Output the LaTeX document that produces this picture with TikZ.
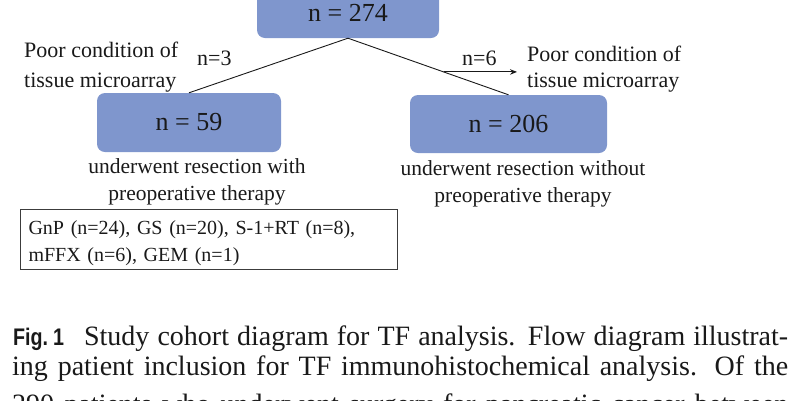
\documentclass[tikz,border=0pt]{standalone}
\usepackage{fontspec}
\setmainfont{Liberation Serif}
\newfontfamily\capsans[FakeStretch=0.82]{Liberation Sans}
\usetikzlibrary{arrows.meta,calc}
\definecolor{boxblue}{RGB}{127,150,205}
\definecolor{framegray}{RGB}{60,60,60}
\definecolor{inkblack}{RGB}{25,25,25}
\tikzset{
  countbox/.style={fill=boxblue, rounded corners=8pt, inner sep=0pt,
    text=inkblack, font=\fontsize{26}{30}\selectfont},
  note/.style={inner sep=0pt, text=inkblack, font=\fontsize{22}{30}\selectfont},
  subnote/.style={inner sep=0pt, text=inkblack, align=center, font=\fontsize{21.5}{27}\selectfont},
  link/.style={line width=0.9pt, draw=inkblack},
  captext/.style={inner sep=0pt, anchor=base west, text=inkblack, font=\fontsize{28}{29}\selectfont},
}
\begin{document}
\begin{tikzpicture}[x=1pt,y=-1pt]
\useasboundingbox (0,0) rectangle (800,400);
\clip (0,0) rectangle (800,400);

% cohort boxes
\node[countbox, minimum width=182pt, minimum height=51pt] (top) at (348,12.5) {n = 274};
\node[countbox, minimum width=184pt, minimum height=59pt] (left) at (189,122.5) {n = 59};
\node[countbox, minimum width=197pt, minimum height=58pt] (right) at (508.5,124) {n = 206};

% split lines
\draw[link] (top.south) -- (left.north);
\draw[link] (top.south) -- (right.north);

% exclusion arrow on the right branch
\coordinate (split) at ($(top.south)!0.596!(right.north)$);
\coordinate (exclend) at (517,72);
\draw[link, -{Stealth[length=7pt,width=5.5pt]}] (split) -- (split -| exclend);

% exclusion labels (base anchor = baseline of the last line)
\node[note, align=left, anchor=base west] (exclL) at (24,87) {Poor condition of\\tissue microarray};
\node[note, anchor=base west] (nL) at (197,65) {n=3};
\node[note, anchor=base west] (nR) at (462,65) {n=6};
\node[note, align=left, anchor=base west, font=\fontsize{22}{26}\selectfont] (exclR) at (527,87) {Poor condition of\\tissue microarray};

% group descriptions
\node[subnote, anchor=base] (descL) at (197,200) {underwent resection with\\preoperative therapy};
\node[subnote, anchor=base] (descR) at (523,202) {underwent resection without\\preoperative therapy};

% regimen box
\node[draw=framegray, line width=1.1pt, anchor=north west, minimum width=377pt, minimum height=60pt,
  inner xsep=8pt, inner ysep=0pt, text width=361pt, align=left, text=inkblack,
  font=\fontsize{20}{27}\selectfont] (regimen) at (20,209)
  {\rule{0pt}{22pt}GnP (n=24), GS (n=20), S-1+RT (n=8),\\mFFX (n=6), GEM (n=1)};

% caption
\node[captext] (cap1) at (13,345) {\hbox to 775pt{{\capsans\bfseries\fontsize{24}{29}\selectfont Fig.\kern5pt 1}\hspace{20pt}Study cohort diagram for TF analysis. Flow diagram illustrat-}};
\node[captext] (cap2) at (12,375) {\hbox to 776pt{ing patient inclusion for TF immunohistochemical analysis. Of the}};
\node[captext] (cap3) at (12,413) {\hbox to 776pt{290 patients who underwent surgery for pancreatic cancer between}};
\end{tikzpicture}
\end{document}
